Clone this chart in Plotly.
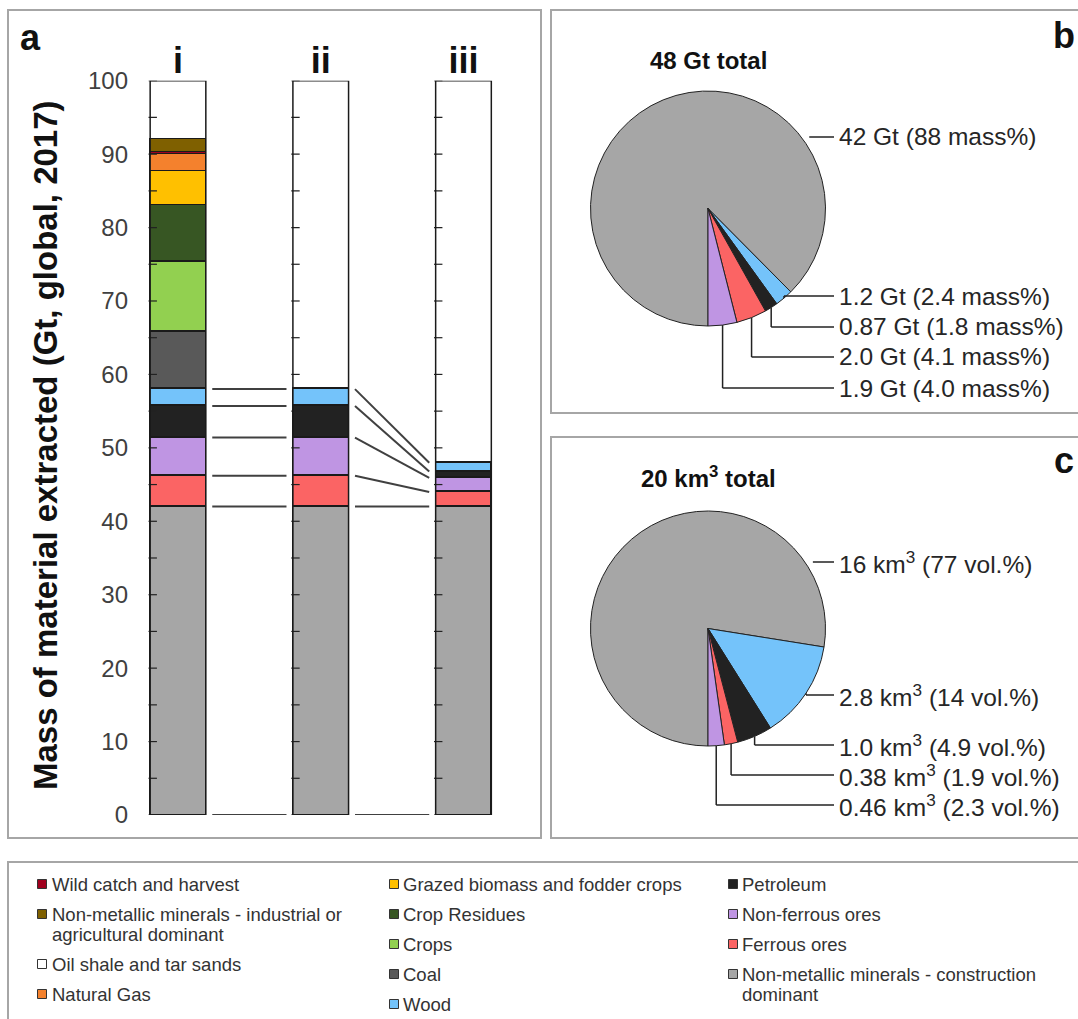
import math
import plotly.graph_objects as go

# ---------------- data ----------------
bar_names = ["i", "ii", "iii"]
categories = [
    "Non-metallic minerals - construction<br>dominant",
    "Ferrous ores",
    "Non-ferrous ores",
    "Petroleum",
    "Wood",
    "Coal",
    "Crops",
    "Crop Residues",
    "Grazed biomass and fodder crops",
    "Natural Gas",
    "Wild catch and harvest",
    "Non-metallic minerals - industrial or<br>agricultural dominant",
    "Oil shale and tar sands",
]
colors = [
    "#a6a6a6", "#fb6464", "#bf95e3", "#222222", "#74c3fa", "#595959",
    "#92d050", "#375623", "#ffc000", "#f4812d", "#a0001e", "#7f6000", "#ffffff",
]
bar_i_values = [42.0, 4.2, 5.2, 4.3, 2.3, 7.8, 9.5, 7.8, 4.6, 2.4, 0.2, 1.8, 0.05]
bar_ii_values = [42.0, 4.2, 5.2, 4.3, 2.3]
bar_iii_values = [42.0, 2.0, 1.9, 0.87, 1.2]
y_tick_values = list(range(0, 101, 10))
inner_tick_values = list(range(0, 101, 5))
y_title = "Mass of material extracted (Gt, global, 2017)"

# pie slices listed counter-clockwise from 6 o'clock
pie_labels = ["Non-ferrous ores", "Ferrous ores", "Petroleum", "Wood",
              "Non-metallic minerals - construction dominant"]
pie_colors = ["#bf95e3", "#fb6464", "#222222", "#74c3fa", "#a6a6a6"]
pie_b_values = [1.9, 2.0, 0.87, 1.2, 42.0]
pie_c_values = [0.46, 0.38, 1.0, 2.8, 16.0]
pie_b_text = ["1.9 Gt (4.0 mass%)", "2.0 Gt (4.1 mass%)", "0.87 Gt (1.8 mass%)",
              "1.2 Gt (2.4 mass%)", "42 Gt (88 mass%)"]
pie_c_text = ["0.46 km<sup>3</sup> (2.3 vol.%)", "0.38 km<sup>3</sup> (1.9 vol.%)",
              "1.0 km<sup>3</sup> (4.9 vol.%)", "2.8 km<sup>3</sup> (14 vol.%)",
              "16 km<sup>3</sup> (77 vol.%)"]
pie_b_title = "48 Gt total"
pie_c_title = "20 km<sup>3</sup> total"

legend_columns = [
    ["Wild catch and harvest",
     "Non-metallic minerals - industrial or<br>agricultural dominant",
     "Oil shale and tar sands", "Natural Gas"],
    ["Grazed biomass and fodder crops", "Crop Residues", "Crops", "Coal", "Wood"],
    ["Petroleum", "Non-ferrous ores", "Ferrous ores",
     "Non-metallic minerals - construction<br>dominant"],
]

# ---------------- layout geometry (pixels) ----------------
W, H = 1078, 1019
FONT = "Liberation Sans, Arial, sans-serif"
BAR_W = 0.39
PLOT_L, PLOT_R = 135, 530
PLOT_T, PLOT_B = 80.7, 815
X_RANGE = [-0.3012, 2.466]
Y_MAX = 100


def px(x):
    return x / W


def py(y):
    return 1 - y / H


fig = go.Figure()

# stacked bars
bar_sets = [bar_i_values, bar_ii_values, bar_iii_values]
x_pos = list(range(len(bar_names)))
for k, cat in enumerate(categories):
    ys = [vals[k] if k < len(vals) else None for vals in bar_sets]
    fig.add_trace(go.Bar(
        x=x_pos, y=ys, name=cat.replace("<br>", " "), width=BAR_W,
        marker=dict(color=colors[k], line=dict(color="#1a1a1a", width=1.2)),
        showlegend=False,
    ))

# series lines between bars
def cum(vals):
    out = [0.0]
    for v in vals:
        out.append(out[-1] + v)
    return out

GAP = 0.045
sx, sy = [], []
pairs = [(0, bar_ii_values, 1, bar_ii_values), (1, bar_ii_values, 2, bar_iii_values)]
for a, va, b, vb in pairs:
    ca, cb = cum(va), cum(vb)
    for ya, yb in zip(ca, cb):
        sx += [a + BAR_W / 2 + GAP, b - BAR_W / 2 - GAP, None]
        sy += [ya, yb, None]
fig.add_trace(go.Scatter(x=sx, y=sy, mode="lines",
                         line=dict(color="#404040", width=2),
                         showlegend=False, hoverinfo="skip"))

# inner tick marks on left edge of each bar box
tx, ty = [], []
for i in x_pos:
    for t in inner_tick_values:
        tx.append(i - BAR_W / 2 + 0.018)
        ty.append(t)
fig.add_trace(go.Scatter(x=tx, y=ty, mode="markers",
                         marker=dict(symbol="line-ew", size=6,
                                     line=dict(color="#222222", width=1.2)),
                         showlegend=False, hoverinfo="skip"))

shapes = []
annotations = []

# bar frame boxes 0..100
for i in x_pos:
    shapes.append(dict(type="rect", xref="x", yref="y",
                       x0=i - BAR_W / 2, x1=i + BAR_W / 2, y0=0, y1=Y_MAX,
                       line=dict(color="#1a1a1a", width=1.5),
                       fillcolor="rgba(0,0,0,0)", layer="above"))

# pies
PIE_CX, PIE_R = 708, 117.5
PIE_CY = {"b": 208.5, "c": 628.5}
LABEL_X = 837
label_y = {"b": [388, 357, 327, 296, 137], "c": [805, 775, 745, 695, 562]}
pie_info = {"b": (pie_b_values, pie_b_text, pie_b_title, 60),
            "c": (pie_c_values, pie_c_text, pie_c_title, 477)}

for key in ["b", "c"]:
    vals, texts, title, title_y = pie_info[key]
    cy = PIE_CY[key]
    # drawn clockwise from 6 o'clock in reverse order == counter-clockwise order
    fig.add_trace(go.Pie(
        values=vals[::-1], labels=pie_labels[::-1], sort=False, direction="clockwise",
        rotation=180, textinfo="none", showlegend=False, automargin=False,
        marker=dict(colors=pie_colors[::-1], line=dict(color="#222222", width=1)),
        domain=dict(x=[px(PIE_CX - PIE_R), px(PIE_CX + PIE_R)],
                    y=[py(cy + PIE_R), py(cy - PIE_R)]),
    ))
    total = sum(vals)
    acc = 0.0
    for j, v in enumerate(vals):
        fmid = (acc + v / 2) / total
        acc += v
        ly = label_y[key][j]
        if j < len(vals) - 1:
            th = 2 * math.pi * fmid
            ex = PIE_CX + PIE_R * math.sin(th)
            ey = cy + PIE_R * math.cos(th)
            shapes.append(dict(type="line", xref="paper", yref="paper",
                               x0=px(ex), y0=py(ey), x1=px(ex), y1=py(ly),
                               line=dict(color="#222222", width=1.5)))
            shapes.append(dict(type="line", xref="paper", yref="paper",
                               x0=px(ex), y0=py(ly), x1=px(LABEL_X - 3), y1=py(ly),
                               line=dict(color="#222222", width=1.5)))
        else:
            dy = cy - ly
            ex = PIE_CX + math.sqrt(PIE_R ** 2 - dy ** 2) + 8
            shapes.append(dict(type="line", xref="paper", yref="paper",
                               x0=px(ex), y0=py(ly), x1=px(LABEL_X - 3), y1=py(ly),
                               line=dict(color="#222222", width=1.5)))
        annotations.append(dict(text=texts[j], x=px(LABEL_X), y=py(ly),
                                xref="paper", yref="paper", xanchor="left",
                                yanchor="middle", showarrow=False,
                                font=dict(family=FONT, size=24.5, color="#262626")))
    annotations.append(dict(text="<b>" + title + "</b>", x=px(PIE_CX), y=py(title_y),
                            xref="paper", yref="paper", xanchor="center",
                            yanchor="middle", showarrow=False,
                            font=dict(family=FONT, size=24, color="#111111")))

# panel borders
BORDER = "#a6a6a6"
for (x0, y0, x1, y1) in [(8, 10, 541, 838), (551, 10, 1095, 413),
                         (551, 437, 1095, 838), (8, 862, 1095, 1035)]:
    shapes.append(dict(type="rect", xref="paper", yref="paper",
                       x0=px(x0), x1=px(x1), y0=py(y1), y1=py(y0),
                       line=dict(color=BORDER, width=2), fillcolor="rgba(0,0,0,0)",
                       layer="below"))

# panel letters
for letter, x, y in [("a", 30, 37), ("b", 1064, 35), ("c", 1064, 460)]:
    annotations.append(dict(text="<b>" + letter + "</b>", x=px(x), y=py(y),
                            xref="paper", yref="paper", xanchor="center",
                            yanchor="middle", showarrow=False,
                            font=dict(family=FONT, size=36, color="#111111")))

# y-axis title
annotations.append(dict(text="<b>" + y_title + "</b>", x=px(45), y=py(445),
                        xref="paper", yref="paper", xanchor="center",
                        yanchor="middle", textangle=-90, showarrow=False,
                        font=dict(family=FONT, size=33, color="#111111")))

# legend (manual, three columns)
LEG_ROW0, LEG_STEP, LEG_LINE, SQ = 884, 30, 20, 9
leg_sq_x = [42, 394, 733]
leg_text_x = [50, 401, 740]
for c, col in enumerate(legend_columns):
    y = LEG_ROW0
    for name in col:
        k = categories.index(name)
        shapes.append(dict(type="rect", xref="paper", yref="paper",
                           x0=px(leg_sq_x[c] - SQ / 2), x1=px(leg_sq_x[c] + SQ / 2),
                           y0=py(y + SQ / 2), y1=py(y - SQ / 2),
                           fillcolor=colors[k], line=dict(color="#333333", width=1)))
        lines = name.split("<br>")
        for j, ln in enumerate(lines):
            annotations.append(dict(text=ln, x=px(leg_text_x[c]), y=py(y + j * LEG_LINE),
                                    xref="paper", yref="paper", xanchor="left",
                                    yanchor="middle", showarrow=False,
                                    font=dict(family=FONT, size=18.5, color="#333333")))
        y += LEG_STEP + (len(lines) - 1) * LEG_LINE

fig.update_layout(
    width=W, height=H,
    margin=dict(l=0, r=0, t=0, b=0, pad=0, autoexpand=False),
    paper_bgcolor="white", plot_bgcolor="rgba(0,0,0,0)",
    barmode="stack", bargap=0,
    showlegend=False,
    font=dict(family=FONT),
    xaxis=dict(domain=[px(PLOT_L), px(PLOT_R)], range=X_RANGE, side="top",
               tickvals=x_pos, ticktext=["<b>" + b + "</b>" for b in bar_names],
               tickfont=dict(family=FONT, size=36, color="#111111"),
               showgrid=False, zeroline=False, showline=False, ticks="",
               automargin=False, fixedrange=True),
    yaxis=dict(domain=[py(PLOT_B), py(PLOT_T)], range=[0, Y_MAX],
               tickvals=y_tick_values, showgrid=False, zeroline=False,
               showline=False, ticks="", ticklabelstandoff=6,
               tickfont=dict(family=FONT, size=24, color="#404040"),
               automargin=False, fixedrange=True),
    shapes=shapes,
    annotations=annotations,
)

page_fix = (
    "document.documentElement.style.margin='0';"
    "document.documentElement.style.padding='0';"
    "document.documentElement.style.overflow='hidden';"
    "document.body.style.margin='0';"
    "document.body.style.padding='0';"
    "document.body.style.overflow='hidden';"
    "var gd=document.querySelector('.plotly-graph-div');"
    "if(gd){gd.parentElement.style.fontSize='0';gd.parentElement.style.lineHeight='0';"
    "gd.style.position='absolute';gd.style.left='0px';gd.style.top='0px';}"
)

fig.write_html(
    "out.html",
    config={"displayModeBar": False},
    post_script=page_fix,
)
